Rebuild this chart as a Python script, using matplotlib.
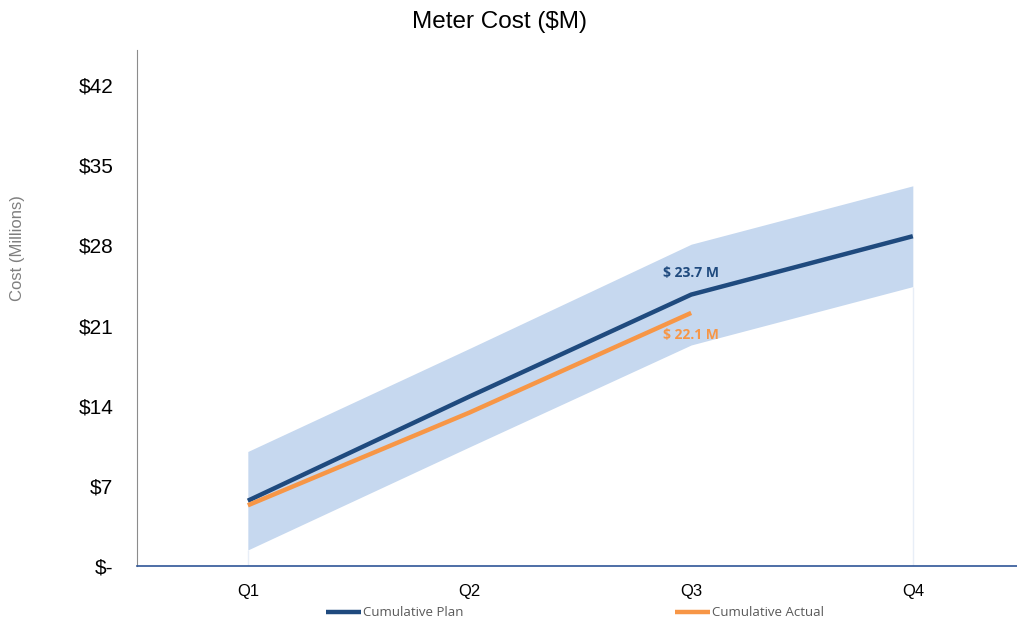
import numpy as np
import matplotlib.pyplot as plt

quarters = ['Q1', 'Q2', 'Q3', 'Q4']
plan = [5.7, 14.8, 23.7, 28.8]
actual = [5.3, 13.4, 22.1]
band_hi = [10.0, 19.0, 28.1, 33.2]
band_lo = [1.4, 10.4, 19.3, 24.4]
yticks = [0, 7, 14, 21, 28, 35, 42]
ylabels = ['$-', '$7', '$14', '$21', '$28', '$35', '$42']

navy = '#1f4a7e'
orange = '#f79646'

fig = plt.figure(figsize=(10.17, 6.23), dpi=100)
ax = fig.add_axes([137/1017, 1-566/623, (1017-137)/1017, (566-50)/623])

x = np.arange(len(quarters))
ax.fill_between(x, band_lo, band_hi, color='#c6d8ef', lw=0)
ax.vlines([x[0], x[-1]], 0, [band_lo[0], band_lo[-1]], color='#e8eef7', lw=1)
ax.plot(x, plan, color=navy, lw=3.2, label='Cumulative Plan', solid_capstyle='butt')
ax.plot(x[:len(actual)], actual, color=orange, lw=3.2, label='Cumulative Actual', solid_capstyle='butt')

ax.text(x[2], plan[2] + 1.9, '$ 23.7 M', color=navy, fontsize=10, fontweight='bold',
        ha='center', va='center', family='Open Sans')
ax.text(x[2], actual[2] - 1.9, '$ 22.1 M', color=orange, fontsize=10, fontweight='bold',
        ha='center', va='center', family='Open Sans')

ax.set_xlim(-0.5, 3.47)
ax.set_ylim(0, 45.06)
ax.set_xticks(x)
ax.set_xticklabels(quarters, fontsize=12, family='Liberation Sans')
ax.set_yticks(yticks)
ax.set_yticklabels(ylabels, fontsize=15, family='Liberation Sans')
ax.tick_params(axis='y', length=0, pad=17)
ax.tick_params(axis='x', length=0, pad=13)
ax.spines['top'].set_visible(False)
ax.spines['right'].set_visible(False)
ax.spines['left'].set_color('#8c8c8c')
ax.spines['bottom'].set_color('#2f5597')
ax.spines['bottom'].set_linewidth(1.2)

ax.set_ylabel('Cost (Millions)', fontsize=12, color='#7f7f7f', family='Liberation Sans')
ax.yaxis.set_label_coords(-112/880, (566-248)/516)
fig.text(500/1017, 1-22/623, 'Meter Cost ($M)', fontsize=17.5, ha='center', va='center', family='Liberation Sans')

fig.legend(loc='center', bbox_to_anchor=(575/1017, 1-613/623), ncol=2, frameon=False,
           handlelength=2.7, handletextpad=0.15, columnspacing=16,
           prop={'family': 'Open Sans', 'size': 9.5}, labelcolor='#595959')

fig.savefig('out.png', dpi=100)
